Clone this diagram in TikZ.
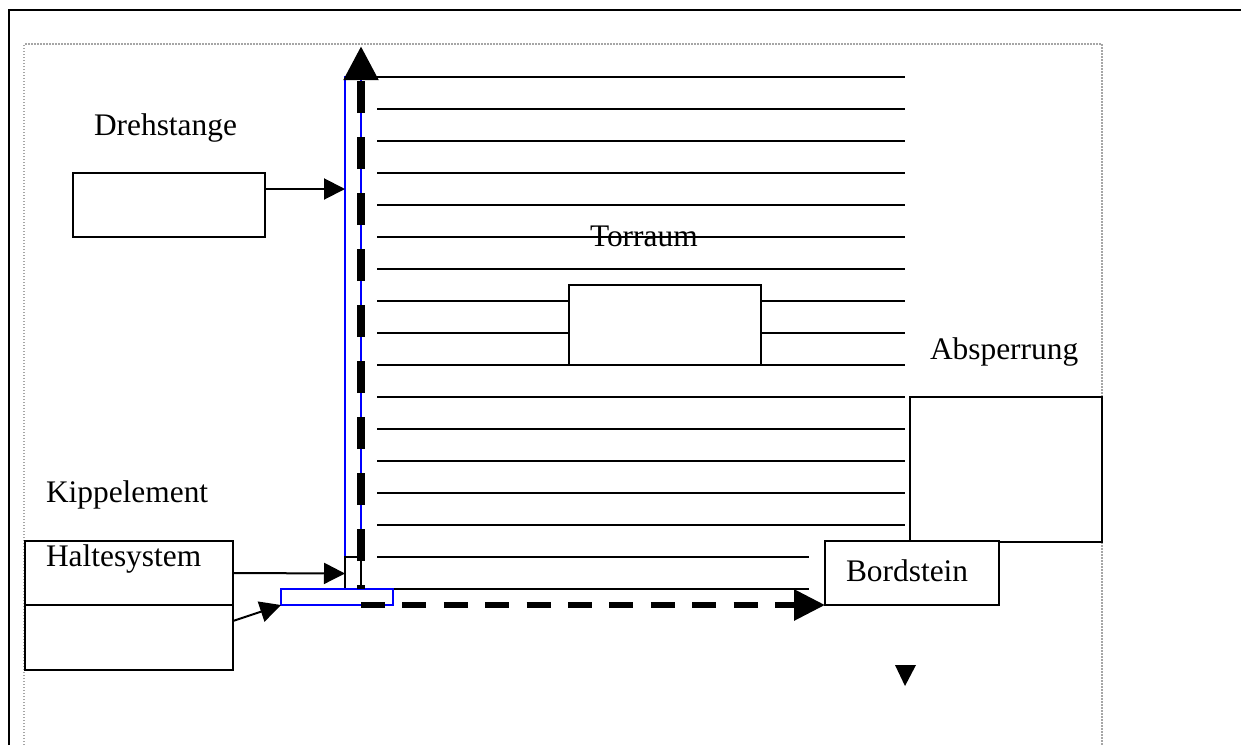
\documentclass[tikz,border=0pt]{standalone}
\usepackage{fontspec}
\usetikzlibrary{arrows.meta}
\setmainfont{Liberation Serif}
\definecolor{wblue}{RGB}{0,0,255}
\begin{document}
\begin{tikzpicture}[x=1pt,y=-1pt,
  every node/.style={font=\fontsize{31.4}{36}\selectfont,inner sep=0pt,outer sep=0pt},
  lbl/.style={anchor=base west},
  rule/.style={line width=2pt,black},
  boxs/.style={draw=black,line width=2pt,fill=white,anchor=north west},
  bluebox/.style={draw=wblue,line width=2pt,anchor=north west},
  thinarrow/.style={line width=2pt,black,-{Triangle[length=21pt,width=21pt]}},
  heavyv/.style={line width=8pt,black,dash pattern=on 32pt off 24pt,dash phase=28pt,-{Triangle[length=34pt,width=33pt]}},
  heavyh/.style={line width=6pt,black,dash pattern=on 24pt off 17.4pt,-{Triangle[length=31pt,width=30pt]}},
  head/.style={fill=black,draw=none}]
\useasboundingbox (0,0) rectangle (1241,745);
\fill[white] (0,0) rectangle (1241,745);
% page frame
\draw[line width=2.5pt] (9,745) -- (9,10) -- (1241,10);
\draw[gray!70,line width=1.2pt,dash pattern=on 1.5pt off 1.5pt] (24,745) -- (24,44) -- (1102,44) -- (1102,745);
% hatch lines
\foreach \y in {77,109,141,173,205,237,269,301,333,365,397,429,461,493,525}
  \draw[rule] (377,\y) -- (905,\y);
\foreach \y in {557,589}
  \draw[rule] (377,\y) -- (809,\y);
% boxes
\node[boxs,minimum width=192pt,minimum height=64pt] (stange) at (73,173) {};
\node[boxs,minimum width=192pt,minimum height=80pt] (inner) at (569,285) {};
\node[boxs,minimum width=192pt,minimum height=145pt] (absp) at (910,397) {};
\node[boxs,minimum width=174pt,minimum height=64pt] (bord) at (825,541) {};
\node[boxs,minimum width=208pt,minimum height=64pt] (halte) at (25,541) {};
\node[boxs,minimum width=208pt,minimum height=65pt] (kipp) at (25,605) {};
\node[bluebox,minimum width=16pt,minimum height=480pt] (rod) at (345,77) {};
\node[draw=black,line width=2pt,minimum width=16pt,minimum height=32pt,anchor=north west] (foot) at (345,557) {};
\node[bluebox,minimum width=112pt,minimum height=16pt] (plate) at (281,589) {};
% connectors
\coordinate (s1) at (265,189);
\coordinate (t1) at (345,189);
\coordinate (s2) at (233,573);
\coordinate (t2) at (345,573.5);
\coordinate (s3) at (233,621);
\coordinate (t3) at (281,605);
\draw[thinarrow] (s1) -- (t1);
\draw[thinarrow] (s2) -- (t2);
\draw[thinarrow] (s3) -- (t3);
% heavy dashed arrows
\coordinate (v0) at (361,589);
\coordinate (v1) at (361,46);
\coordinate (h0) at (361,605);
\coordinate (h1) at (825,605);
\draw[line width=2pt] (v0) -- (361,560);
\draw[heavyv] (v0) -- (v1);
\draw[heavyh] (h0) -- (h1);
\fill[head] (905,686) -- (895,665) -- (916,665) -- cycle;
% labels
\node[lbl] (l1) at (94,135) {Drehstange};
\node[lbl] (l2) at (590,246.5) {Torraum};
\node[lbl] (l3) at (930,359.5) {Absperrung};
\node[lbl] (l4) at (46,502.5) {Kippelement};
\node[lbl] (l5) at (46,566.5) {Haltesystem};
\node[lbl] (l6) at (846,581.5) {Bordstein};
\end{tikzpicture}
\end{document}
